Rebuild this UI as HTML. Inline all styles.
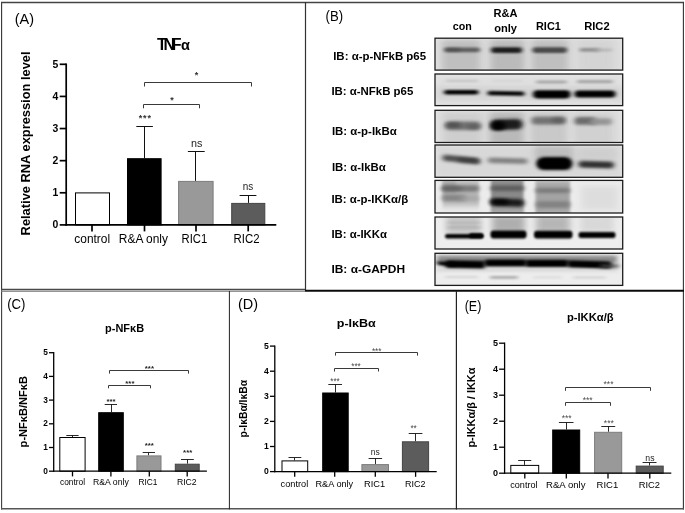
<!DOCTYPE html>
<html><head><meta charset="utf-8"><title>Figure</title>
<style>html,body{margin:0;padding:0;background:#fff;}svg{display:block;filter:blur(0.35px);}text{font-family:"Liberation Sans",sans-serif;}</style>
</head><body>
<svg width="685" height="513" viewBox="0 0 685 513">
<defs>
<filter id="b0" x="-20%" y="-100%" width="140%" height="300%"><feGaussianBlur stdDeviation="1.1 0.8"/></filter>
<filter id="b5" x="-20%" y="-50%" width="140%" height="200%"><feGaussianBlur stdDeviation="1.6 3"/></filter>
<filter id="b1" x="-20%" y="-100%" width="140%" height="300%"><feGaussianBlur stdDeviation="2.2 0.85"/></filter>
<filter id="b2" x="-20%" y="-100%" width="140%" height="300%"><feGaussianBlur stdDeviation="2.8 1.7"/></filter>
<filter id="b3" x="-30%" y="-100%" width="160%" height="300%"><feGaussianBlur stdDeviation="3.5 2.5"/></filter>
</defs>
<rect width="685" height="513" fill="#fff"/>
<line x1="1.6" y1="2" x2="1.6" y2="290" stroke="#333" stroke-width="1.1"/>
<line x1="1.6" y1="290" x2="1.6" y2="509.4" stroke="#3c3c3c" stroke-width="1.1"/>
<line x1="1" y1="2.5" x2="684" y2="2.5" stroke="#444" stroke-width="1.4"/>
<line x1="683.4" y1="2" x2="683.4" y2="509.4" stroke="#333" stroke-width="1.1"/>
<line x1="1" y1="508.8" x2="684" y2="508.8" stroke="#555" stroke-width="1.4"/>
<line x1="305.5" y1="2" x2="305.5" y2="291" stroke="#333" stroke-width="1.2"/>
<line x1="1" y1="289.4" x2="305" y2="289.4" stroke="#484848" stroke-width="1.2"/>
<line x1="1" y1="291.2" x2="305" y2="291.2" stroke="#707070" stroke-width="1.2"/>
<line x1="305" y1="290.8" x2="684" y2="290.8" stroke="#0a0a0a" stroke-width="2"/>
<line x1="229.4" y1="291" x2="229.4" y2="509.4" stroke="#222" stroke-width="1"/>
<line x1="456.4" y1="291" x2="456.4" y2="509.4" stroke="#222" stroke-width="1.2"/>
<text x="14.7" y="23.6" font-size="14" font-weight="normal" text-anchor="start" fill="#000" textLength="19.3" lengthAdjust="spacingAndGlyphs">(A)</text>
<text x="325.6" y="20.9" font-size="14" font-weight="normal" text-anchor="start" fill="#000" textLength="17.5" lengthAdjust="spacingAndGlyphs">(B)</text>
<text x="7.2" y="309.2" font-size="14.4" font-weight="normal" text-anchor="start" fill="#000" textLength="18.2" lengthAdjust="spacingAndGlyphs">(C)</text>
<text x="238" y="308.8" font-size="14.1" font-weight="normal" text-anchor="start" fill="#000" textLength="20.1" lengthAdjust="spacingAndGlyphs">(D)</text>
<text x="464.7" y="310.7" font-size="14" font-weight="normal" text-anchor="start" fill="#000" textLength="16.6" lengthAdjust="spacingAndGlyphs">(E)</text>
<rect x="75.5" y="192.9" width="34" height="32.0" fill="#fff" stroke="#000" stroke-width="1"/>
<line x1="144.5" y1="126.5" x2="144.5" y2="158.2" stroke="#111" stroke-width="1"/>
<line x1="136.3" y1="126.5" x2="152.9" y2="126.5" stroke="#111" stroke-width="1"/>
<rect x="127.5" y="158.7" width="33.6" height="66.2" fill="#000" stroke="#000" stroke-width="1"/>
<line x1="195.5" y1="151.5" x2="195.5" y2="180.9" stroke="#111" stroke-width="1"/>
<line x1="187.9" y1="151.5" x2="204.7" y2="151.5" stroke="#111" stroke-width="1"/>
<rect x="178.6" y="181.4" width="34.5" height="43.5" fill="#999" stroke="#7c7c7c" stroke-width="1"/>
<line x1="248.5" y1="195.5" x2="248.5" y2="202.9" stroke="#111" stroke-width="1"/>
<line x1="239.6" y1="195.5" x2="256.4" y2="195.5" stroke="#111" stroke-width="1"/>
<rect x="231.7" y="203.4" width="33.1" height="21.5" fill="#5c5c5c" stroke="#444" stroke-width="1"/>
<line x1="66.2" y1="63.45000000000001" x2="66.2" y2="225.75" stroke="#000" stroke-width="1.7"/>
<line x1="65.35000000000001" y1="224.9" x2="276.3" y2="224.9" stroke="#000" stroke-width="1.7"/>
<line x1="59.7" y1="224.9" x2="66.2" y2="224.9" stroke="#000" stroke-width="1.7"/>
<text x="58.300000000000004" y="228.228" font-size="10.4" font-weight="bold" text-anchor="end" fill="#000">0</text>
<line x1="59.7" y1="192.78" x2="66.2" y2="192.78" stroke="#000" stroke-width="1.7"/>
<text x="58.300000000000004" y="196.108" font-size="10.4" font-weight="bold" text-anchor="end" fill="#000">1</text>
<line x1="59.7" y1="160.66000000000003" x2="66.2" y2="160.66000000000003" stroke="#000" stroke-width="1.7"/>
<text x="58.300000000000004" y="163.98800000000003" font-size="10.4" font-weight="bold" text-anchor="end" fill="#000">2</text>
<line x1="59.7" y1="128.54000000000002" x2="66.2" y2="128.54000000000002" stroke="#000" stroke-width="1.7"/>
<text x="58.300000000000004" y="131.86800000000002" font-size="10.4" font-weight="bold" text-anchor="end" fill="#000">3</text>
<line x1="59.7" y1="96.42000000000002" x2="66.2" y2="96.42000000000002" stroke="#000" stroke-width="1.7"/>
<text x="58.300000000000004" y="99.74800000000002" font-size="10.4" font-weight="bold" text-anchor="end" fill="#000">4</text>
<line x1="59.7" y1="64.30000000000001" x2="66.2" y2="64.30000000000001" stroke="#000" stroke-width="1.7"/>
<text x="58.300000000000004" y="67.62800000000001" font-size="10.4" font-weight="bold" text-anchor="end" fill="#000">5</text>
<line x1="92" y1="224.9" x2="92" y2="231.4" stroke="#000" stroke-width="1.7"/>
<line x1="144.5" y1="224.9" x2="144.5" y2="231.4" stroke="#000" stroke-width="1.7"/>
<line x1="196" y1="224.9" x2="196" y2="231.4" stroke="#000" stroke-width="1.7"/>
<line x1="248.2" y1="224.9" x2="248.2" y2="231.4" stroke="#000" stroke-width="1.7"/>
<text x="74.3" y="243" font-size="12" font-weight="normal" text-anchor="start" fill="#000" textLength="35.8" lengthAdjust="spacingAndGlyphs">control</text>
<text x="118.8" y="243" font-size="12" font-weight="normal" text-anchor="start" fill="#000" textLength="49.1" lengthAdjust="spacingAndGlyphs">R&amp;A only</text>
<text x="181.6" y="243" font-size="12" font-weight="normal" text-anchor="start" fill="#000" textLength="25.7" lengthAdjust="spacingAndGlyphs">RIC1</text>
<text x="233.5" y="243" font-size="12" font-weight="normal" text-anchor="start" fill="#000" textLength="26.0" lengthAdjust="spacingAndGlyphs">RIC2</text>
<text transform="translate(30.3,143.4) rotate(-90)" font-size="13" font-weight="bold" text-anchor="middle" textLength="184" lengthAdjust="spacingAndGlyphs">Relative RNA expression level</text>
<text x="157" y="49.7" font-size="16" font-weight="bold"><tspan letter-spacing="-3.3">TNF</tspan><tspan dx="2.8" font-size="14.5">α</tspan></text>
<path d="M144.5 86.5V82.5H251.5V86.5" fill="none" stroke="#3a3a3a" stroke-width="1"/>
<text x="196.6" y="78.34" font-size="9" font-weight="bold" text-anchor="middle" fill="#333">*</text>
<path d="M143.5 108.3V104.5H199.5V108.3" fill="none" stroke="#3a3a3a" stroke-width="1"/>
<text x="171.9" y="102.73" font-size="9" font-weight="bold" text-anchor="middle" fill="#333">*</text>
<text x="144.8" y="121.03" font-size="9" font-weight="bold" text-anchor="middle" fill="#333" textLength="12.3" lengthAdjust="spacing">***</text>
<text x="191" y="147.1" font-size="11.8" font-weight="normal" text-anchor="start" fill="#222" textLength="11.4" lengthAdjust="spacingAndGlyphs">ns</text>
<text x="242.7" y="189.6" font-size="11.5" font-weight="normal" text-anchor="start" fill="#222" textLength="10.5" lengthAdjust="spacingAndGlyphs">ns</text>
<line x1="72.5" y1="435.5" x2="72.5" y2="437" stroke="#111" stroke-width="0.9"/>
<line x1="66.3" y1="435.5" x2="78.6" y2="435.5" stroke="#111" stroke-width="0.9"/>
<rect x="59.8" y="437.5" width="25.299999999999997" height="33.69999999999999" fill="#fff" stroke="#000" stroke-width="1"/>
<line x1="111.5" y1="404.5" x2="111.5" y2="412.2" stroke="#111" stroke-width="0.9"/>
<line x1="104.7" y1="404.5" x2="117" y2="404.5" stroke="#111" stroke-width="0.9"/>
<rect x="98.7" y="412.7" width="24.6" height="58.5" fill="#000" stroke="#000" stroke-width="1"/>
<line x1="148.5" y1="452.5" x2="148.5" y2="455.4" stroke="#111" stroke-width="0.9"/>
<line x1="142.7" y1="452.5" x2="155" y2="452.5" stroke="#111" stroke-width="0.9"/>
<rect x="136.9" y="455.9" width="24.1" height="15.3" fill="#999" stroke="#7c7c7c" stroke-width="1"/>
<line x1="187.5" y1="459.5" x2="187.5" y2="463.7" stroke="#111" stroke-width="0.9"/>
<line x1="181" y1="459.5" x2="193.8" y2="459.5" stroke="#111" stroke-width="0.9"/>
<rect x="175.3" y="464.2" width="23.9" height="7.0" fill="#5c5c5c" stroke="#444" stroke-width="1"/>
<line x1="53.7" y1="352.05" x2="53.7" y2="471.84999999999997" stroke="#000" stroke-width="1.3"/>
<line x1="53.050000000000004" y1="471.2" x2="206.9" y2="471.2" stroke="#000" stroke-width="1.3"/>
<line x1="49.0" y1="471.2" x2="53.7" y2="471.2" stroke="#000" stroke-width="1.3"/>
<text x="47.8" y="473.856" font-size="8.3" font-weight="bold" text-anchor="end" fill="#000">0</text>
<line x1="49.0" y1="447.5" x2="53.7" y2="447.5" stroke="#000" stroke-width="1.3"/>
<text x="47.8" y="450.156" font-size="8.3" font-weight="bold" text-anchor="end" fill="#000">1</text>
<line x1="49.0" y1="423.8" x2="53.7" y2="423.8" stroke="#000" stroke-width="1.3"/>
<text x="47.8" y="426.456" font-size="8.3" font-weight="bold" text-anchor="end" fill="#000">2</text>
<line x1="49.0" y1="400.1" x2="53.7" y2="400.1" stroke="#000" stroke-width="1.3"/>
<text x="47.8" y="402.75600000000003" font-size="8.3" font-weight="bold" text-anchor="end" fill="#000">3</text>
<line x1="49.0" y1="376.4" x2="53.7" y2="376.4" stroke="#000" stroke-width="1.3"/>
<text x="47.8" y="379.056" font-size="8.3" font-weight="bold" text-anchor="end" fill="#000">4</text>
<line x1="49.0" y1="352.7" x2="53.7" y2="352.7" stroke="#000" stroke-width="1.3"/>
<text x="47.8" y="355.356" font-size="8.3" font-weight="bold" text-anchor="end" fill="#000">5</text>
<line x1="72.5" y1="471.2" x2="72.5" y2="476.4" stroke="#000" stroke-width="1.3"/>
<line x1="110.9" y1="471.2" x2="110.9" y2="476.4" stroke="#000" stroke-width="1.3"/>
<line x1="149.3" y1="471.2" x2="149.3" y2="476.4" stroke="#000" stroke-width="1.3"/>
<line x1="187.2" y1="471.2" x2="187.2" y2="476.4" stroke="#000" stroke-width="1.3"/>
<text x="60" y="485" font-size="8.6" font-weight="normal" text-anchor="start" fill="#000" textLength="25.1" lengthAdjust="spacingAndGlyphs">control</text>
<text x="93" y="485" font-size="8.6" font-weight="normal" text-anchor="start" fill="#000" textLength="35.8" lengthAdjust="spacingAndGlyphs">R&amp;A only</text>
<text x="138.4" y="485" font-size="8.6" font-weight="normal" text-anchor="start" fill="#000" textLength="19.0" lengthAdjust="spacingAndGlyphs">RIC1</text>
<text x="176.9" y="485" font-size="8.6" font-weight="normal" text-anchor="start" fill="#000" textLength="19.8" lengthAdjust="spacingAndGlyphs">RIC2</text>
<text transform="translate(26.5,411.7) rotate(-90)" font-size="10" font-weight="bold" text-anchor="middle" textLength="71.4" lengthAdjust="spacingAndGlyphs">p-NFκB/NFκB</text>
<text x="105.1" y="331.9" font-size="10" font-weight="bold" text-anchor="start" fill="#000" textLength="39" lengthAdjust="spacingAndGlyphs">p-NFκB</text>
<path d="M109.5 373.6V370.5H188.5V373.6" fill="none" stroke="#3a3a3a" stroke-width="1"/>
<text x="149.4" y="371.11" font-size="7.6" font-weight="bold" text-anchor="middle" fill="#222" textLength="9.2" lengthAdjust="spacingAndGlyphs">***</text>
<path d="M108.5 388.3V385.5H150.5V388.3" fill="none" stroke="#3a3a3a" stroke-width="1"/>
<text x="129.9" y="385.61" font-size="7.6" font-weight="bold" text-anchor="middle" fill="#222" textLength="9.2" lengthAdjust="spacingAndGlyphs">***</text>
<text x="111" y="404.11" font-size="7.6" font-weight="bold" text-anchor="middle" fill="#222" textLength="9.2" lengthAdjust="spacingAndGlyphs">***</text>
<text x="149.3" y="448.21" font-size="7.6" font-weight="bold" text-anchor="middle" fill="#222" textLength="9.2" lengthAdjust="spacingAndGlyphs">***</text>
<text x="187.7" y="455.01" font-size="7.6" font-weight="bold" text-anchor="middle" fill="#222" textLength="9.2" lengthAdjust="spacingAndGlyphs">***</text>
<line x1="294.5" y1="457.5" x2="294.5" y2="460.4" stroke="#111" stroke-width="0.9"/>
<line x1="288.5" y1="457.5" x2="301.3" y2="457.5" stroke="#111" stroke-width="0.9"/>
<rect x="282.0" y="460.9" width="25.69999999999999" height="10.700000000000045" fill="#fff" stroke="#000" stroke-width="1"/>
<line x1="335.5" y1="384.5" x2="335.5" y2="392.5" stroke="#111" stroke-width="0.9"/>
<line x1="328.3" y1="384.5" x2="342" y2="384.5" stroke="#111" stroke-width="0.9"/>
<rect x="322.7" y="393.0" width="25.5" height="78.6" fill="#000" stroke="#000" stroke-width="1"/>
<line x1="375.5" y1="458.5" x2="375.5" y2="464.1" stroke="#111" stroke-width="0.9"/>
<line x1="368.6" y1="458.5" x2="382.1" y2="458.5" stroke="#111" stroke-width="0.9"/>
<rect x="361.9" y="464.6" width="26.6" height="7.0" fill="#999" stroke="#7c7c7c" stroke-width="1"/>
<line x1="415.5" y1="433.5" x2="415.5" y2="441.3" stroke="#111" stroke-width="0.9"/>
<line x1="408.7" y1="433.5" x2="422.4" y2="433.5" stroke="#111" stroke-width="0.9"/>
<rect x="402.4" y="441.8" width="26.2" height="29.8" fill="#5c5c5c" stroke="#444" stroke-width="1"/>
<line x1="274.8" y1="345.45000000000005" x2="274.8" y2="472.25" stroke="#000" stroke-width="1.3"/>
<line x1="274.15000000000003" y1="471.6" x2="436.7" y2="471.6" stroke="#000" stroke-width="1.3"/>
<line x1="270.0" y1="471.6" x2="274.8" y2="471.6" stroke="#000" stroke-width="1.3"/>
<text x="268.8" y="474.35200000000003" font-size="8.6" font-weight="bold" text-anchor="end" fill="#000">0</text>
<line x1="270.0" y1="446.5" x2="274.8" y2="446.5" stroke="#000" stroke-width="1.3"/>
<text x="268.8" y="449.252" font-size="8.6" font-weight="bold" text-anchor="end" fill="#000">1</text>
<line x1="270.0" y1="421.40000000000003" x2="274.8" y2="421.40000000000003" stroke="#000" stroke-width="1.3"/>
<text x="268.8" y="424.15200000000004" font-size="8.6" font-weight="bold" text-anchor="end" fill="#000">2</text>
<line x1="270.0" y1="396.3" x2="274.8" y2="396.3" stroke="#000" stroke-width="1.3"/>
<text x="268.8" y="399.052" font-size="8.6" font-weight="bold" text-anchor="end" fill="#000">3</text>
<line x1="270.0" y1="371.20000000000005" x2="274.8" y2="371.20000000000005" stroke="#000" stroke-width="1.3"/>
<text x="268.8" y="373.95200000000006" font-size="8.6" font-weight="bold" text-anchor="end" fill="#000">4</text>
<line x1="270.0" y1="346.1" x2="274.8" y2="346.1" stroke="#000" stroke-width="1.3"/>
<text x="268.8" y="348.85200000000003" font-size="8.6" font-weight="bold" text-anchor="end" fill="#000">5</text>
<line x1="294.7" y1="471.6" x2="294.7" y2="476.8" stroke="#000" stroke-width="1.3"/>
<line x1="334.7" y1="471.6" x2="334.7" y2="476.8" stroke="#000" stroke-width="1.3"/>
<line x1="375.3" y1="471.6" x2="375.3" y2="476.8" stroke="#000" stroke-width="1.3"/>
<line x1="415.6" y1="471.6" x2="415.6" y2="476.8" stroke="#000" stroke-width="1.3"/>
<text x="280.6" y="486.7" font-size="9" font-weight="normal" text-anchor="start" fill="#000" textLength="27.6" lengthAdjust="spacingAndGlyphs">control</text>
<text x="315.5" y="486.7" font-size="9" font-weight="normal" text-anchor="start" fill="#000" textLength="37.7" lengthAdjust="spacingAndGlyphs">R&amp;A only</text>
<text x="364" y="486.7" font-size="9" font-weight="normal" text-anchor="start" fill="#000" textLength="21.1" lengthAdjust="spacingAndGlyphs">RIC1</text>
<text x="405" y="486.7" font-size="9" font-weight="normal" text-anchor="start" fill="#000" textLength="20.5" lengthAdjust="spacingAndGlyphs">RIC2</text>
<text transform="translate(247,408.7) rotate(-90)" font-size="10" font-weight="bold" text-anchor="middle" textLength="57.4" lengthAdjust="spacingAndGlyphs">p-IκBα/IκBα</text>
<text x="336.8" y="327" font-size="10" font-weight="bold" text-anchor="start" fill="#000" textLength="39" lengthAdjust="spacingAndGlyphs">p-IκBα</text>
<path d="M335.5 355.6V352.5H417.5V355.6" fill="none" stroke="#3a3a3a" stroke-width="1"/>
<text x="376.7" y="354.25" font-size="9.8" font-weight="normal" text-anchor="middle" fill="#444" textLength="9.5" lengthAdjust="spacingAndGlyphs">***</text>
<path d="M334.5 371.5V368.5H378.5V371.5" fill="none" stroke="#3a3a3a" stroke-width="1"/>
<text x="356" y="369.25" font-size="9.8" font-weight="normal" text-anchor="middle" fill="#444" textLength="9.5" lengthAdjust="spacingAndGlyphs">***</text>
<text x="335" y="384.05" font-size="9.8" font-weight="normal" text-anchor="middle" fill="#444" textLength="9.5" lengthAdjust="spacingAndGlyphs">***</text>
<text x="370.8" y="455.3" font-size="9" font-weight="normal" text-anchor="start" fill="#222" textLength="9" lengthAdjust="spacingAndGlyphs">ns</text>
<text x="413.6" y="431.05" font-size="9.8" font-weight="normal" text-anchor="middle" fill="#444" textLength="6.4" lengthAdjust="spacingAndGlyphs">**</text>
<line x1="524.5" y1="460.5" x2="524.5" y2="464.9" stroke="#111" stroke-width="0.9"/>
<line x1="518.2" y1="460.5" x2="531.3" y2="460.5" stroke="#111" stroke-width="0.9"/>
<rect x="510.8" y="465.4" width="27.900000000000034" height="7.800000000000011" fill="#fff" stroke="#000" stroke-width="1"/>
<line x1="566.5" y1="422.5" x2="566.5" y2="429.5" stroke="#111" stroke-width="0.9"/>
<line x1="558.9" y1="422.5" x2="573.5" y2="422.5" stroke="#111" stroke-width="0.9"/>
<rect x="552.7" y="430.0" width="27.0" height="43.2" fill="#000" stroke="#000" stroke-width="1"/>
<line x1="608.5" y1="426.5" x2="608.5" y2="431.8" stroke="#111" stroke-width="0.9"/>
<line x1="601.3" y1="426.5" x2="615.2" y2="426.5" stroke="#111" stroke-width="0.9"/>
<rect x="594.6" y="432.3" width="27.1" height="40.9" fill="#999" stroke="#7c7c7c" stroke-width="1"/>
<line x1="649.5" y1="462.5" x2="649.5" y2="465.6" stroke="#111" stroke-width="0.9"/>
<line x1="642.6" y1="462.5" x2="656.5" y2="462.5" stroke="#111" stroke-width="0.9"/>
<rect x="636.2" y="466.1" width="27.0" height="7.1" fill="#5c5c5c" stroke="#444" stroke-width="1"/>
<line x1="504.6" y1="342.55" x2="504.6" y2="473.84999999999997" stroke="#000" stroke-width="1.3"/>
<line x1="503.95000000000005" y1="473.2" x2="671.3" y2="473.2" stroke="#000" stroke-width="1.3"/>
<line x1="499.1" y1="473.2" x2="504.6" y2="473.2" stroke="#000" stroke-width="1.3"/>
<text x="497.90000000000003" y="476.08" font-size="9" font-weight="bold" text-anchor="end" fill="#000">0</text>
<line x1="499.1" y1="447.2" x2="504.6" y2="447.2" stroke="#000" stroke-width="1.3"/>
<text x="497.90000000000003" y="450.08" font-size="9" font-weight="bold" text-anchor="end" fill="#000">1</text>
<line x1="499.1" y1="421.2" x2="504.6" y2="421.2" stroke="#000" stroke-width="1.3"/>
<text x="497.90000000000003" y="424.08" font-size="9" font-weight="bold" text-anchor="end" fill="#000">2</text>
<line x1="499.1" y1="395.2" x2="504.6" y2="395.2" stroke="#000" stroke-width="1.3"/>
<text x="497.90000000000003" y="398.08" font-size="9" font-weight="bold" text-anchor="end" fill="#000">3</text>
<line x1="499.1" y1="369.2" x2="504.6" y2="369.2" stroke="#000" stroke-width="1.3"/>
<text x="497.90000000000003" y="372.08" font-size="9" font-weight="bold" text-anchor="end" fill="#000">4</text>
<line x1="499.1" y1="343.2" x2="504.6" y2="343.2" stroke="#000" stroke-width="1.3"/>
<text x="497.90000000000003" y="346.08" font-size="9" font-weight="bold" text-anchor="end" fill="#000">5</text>
<line x1="524.8" y1="473.2" x2="524.8" y2="478.59999999999997" stroke="#000" stroke-width="1.3"/>
<line x1="566.3" y1="473.2" x2="566.3" y2="478.59999999999997" stroke="#000" stroke-width="1.3"/>
<line x1="608" y1="473.2" x2="608" y2="478.59999999999997" stroke="#000" stroke-width="1.3"/>
<line x1="649.8" y1="473.2" x2="649.8" y2="478.59999999999997" stroke="#000" stroke-width="1.3"/>
<text x="510.3" y="488" font-size="9.2" font-weight="normal" text-anchor="start" fill="#000" textLength="27.2" lengthAdjust="spacingAndGlyphs">control</text>
<text x="546" y="488" font-size="9.2" font-weight="normal" text-anchor="start" fill="#000" textLength="39.5" lengthAdjust="spacingAndGlyphs">R&amp;A only</text>
<text x="596.6" y="488" font-size="9.2" font-weight="normal" text-anchor="start" fill="#000" textLength="21.7" lengthAdjust="spacingAndGlyphs">RIC1</text>
<text x="638.7" y="488" font-size="9.2" font-weight="normal" text-anchor="start" fill="#000" textLength="21.3" lengthAdjust="spacingAndGlyphs">RIC2</text>
<text transform="translate(475,407.6) rotate(-90)" font-size="10" font-weight="bold" text-anchor="middle" textLength="80" lengthAdjust="spacingAndGlyphs">p-IKKα/β / IKKα</text>
<text x="566.9" y="320.5" font-size="10" font-weight="bold" text-anchor="start" fill="#000" textLength="46.7" lengthAdjust="spacingAndGlyphs">p-IKKα/β</text>
<path d="M565.5 390.8V387.5H650.5V390.8" fill="none" stroke="#3a3a3a" stroke-width="1"/>
<text x="608.5" y="387.45" font-size="9.8" font-weight="normal" text-anchor="middle" fill="#4a4a4a" textLength="10" lengthAdjust="spacingAndGlyphs">***</text>
<path d="M565.5 405.8V402.5H610.5V405.8" fill="none" stroke="#3a3a3a" stroke-width="1"/>
<text x="587.7" y="403.25" font-size="9.8" font-weight="normal" text-anchor="middle" fill="#4a4a4a" textLength="10" lengthAdjust="spacingAndGlyphs">***</text>
<text x="566.7" y="420.85" font-size="9.8" font-weight="normal" text-anchor="middle" fill="#4a4a4a" textLength="10" lengthAdjust="spacingAndGlyphs">***</text>
<text x="608.8" y="426.05" font-size="9.8" font-weight="normal" text-anchor="middle" fill="#4a4a4a" textLength="10" lengthAdjust="spacingAndGlyphs">***</text>
<text x="645.3" y="460.9" font-size="9" font-weight="normal" text-anchor="start" fill="#222" textLength="9.2" lengthAdjust="spacingAndGlyphs">ns</text>
<text x="333.2" y="59.6" font-size="11" font-weight="bold" text-anchor="start" fill="#000" textLength="92.9" lengthAdjust="spacingAndGlyphs">IB: α-p-NFkB p65</text>
<text x="331.4" y="94.7" font-size="11" font-weight="bold" text-anchor="start" fill="#000" textLength="81.9" lengthAdjust="spacingAndGlyphs">IB: α-NFkB p65</text>
<text x="331.9" y="135.4" font-size="11" font-weight="bold" text-anchor="start" fill="#000" textLength="64.8" lengthAdjust="spacingAndGlyphs">IB: α-p-IkBα</text>
<text x="331.9" y="171.4" font-size="11" font-weight="bold" text-anchor="start" fill="#000" textLength="53.9" lengthAdjust="spacingAndGlyphs">IB: α-IkBα</text>
<text x="331.4" y="203.2" font-size="11" font-weight="bold" text-anchor="start" fill="#000" textLength="76.8" lengthAdjust="spacingAndGlyphs">IB: α-p-IKKα/β</text>
<text x="331.4" y="237.9" font-size="11" font-weight="bold" text-anchor="start" fill="#000" textLength="55.6" lengthAdjust="spacingAndGlyphs">IB: α-IKKα</text>
<text x="331.4" y="272.5" font-size="11" font-weight="bold" text-anchor="start" fill="#000" textLength="73.7" lengthAdjust="spacingAndGlyphs">IB: α-GAPDH</text>
<text x="452.8" y="29.6" font-size="11" font-weight="bold" text-anchor="start" fill="#000" textLength="19" lengthAdjust="spacingAndGlyphs">con</text>
<text x="493.6" y="17.4" font-size="11" font-weight="bold" text-anchor="start" fill="#000" textLength="24" lengthAdjust="spacingAndGlyphs">R&amp;A</text>
<text x="494.2" y="32" font-size="11" font-weight="bold" text-anchor="start" fill="#000" textLength="22.8" lengthAdjust="spacingAndGlyphs">only</text>
<text x="536" y="29.6" font-size="11" font-weight="bold" text-anchor="start" fill="#000" textLength="24.8" lengthAdjust="spacingAndGlyphs">RIC1</text>
<text x="584.2" y="29.6" font-size="11" font-weight="bold" text-anchor="start" fill="#000" textLength="25.4" lengthAdjust="spacingAndGlyphs">RIC2</text>
<!--BLOTS-->
<clipPath id="c0"><rect x="435" y="38.2" width="187.70000000000005" height="31.89999999999999"/></clipPath>
<rect x="435" y="38.2" width="187.70000000000005" height="31.89999999999999" fill="#e9e9e9"/>
<g clip-path="url(#c0)">
<rect x="435" y="38" width="188.0" height="33.0" fill="#dcdcdc" opacity="1" filter="url(#b3)"/>
<rect x="442" y="40" width="38.0" height="32.0" fill="#b8b8b8" opacity="0.8" filter="url(#b3)"/>
<rect x="490.5" y="40" width="33.5" height="32.0" fill="#b4b4b4" opacity="0.85" filter="url(#b3)"/>
<rect x="532" y="40" width="36.0" height="32.0" fill="#b8b8b8" opacity="0.8" filter="url(#b3)"/>
<rect x="579" y="40" width="34.0" height="32.0" fill="#cfcfcf" opacity="0.6" filter="url(#b3)"/>
<rect x="444.5" y="47.5" width="35.5" height="4.8" rx="2.4" fill="#5a5a5a" opacity="0.95" filter="url(#b1)"/>
<rect x="445" y="47.7" width="15.0" height="4" rx="2.0" fill="#444" opacity="0.5" filter="url(#b1)"/>
<rect x="491" y="47.2" width="31.0" height="5.8" rx="2.9" fill="#1c1c1c" opacity="1" filter="url(#b1)"/>
<rect x="532.5" y="47.3" width="34.5" height="5.6" rx="2.8" fill="#484848" opacity="1" filter="url(#b1)"/>
<rect x="579.5" y="48.1" width="20.5" height="3.6" rx="1.8" fill="#8a8a8a" opacity="0.9" filter="url(#b1)"/>
<rect x="595" y="48.6" width="17.0" height="3" rx="1.5" fill="#b0b0b0" opacity="0.8" filter="url(#b1)"/>
</g>
<rect x="435" y="38.2" width="187.70000000000005" height="31.89999999999999" fill="none" stroke="#1c1c1c" stroke-width="1.3"/>
<clipPath id="c1"><rect x="435" y="74" width="187.70000000000005" height="31.599999999999994"/></clipPath>
<rect x="435" y="74" width="187.70000000000005" height="31.599999999999994" fill="#e9e9e9"/>
<g clip-path="url(#c1)">
<rect x="435" y="74" width="188.0" height="32.0" fill="#e0e0e0" opacity="1" filter="url(#b3)"/>
<rect x="435" y="86" width="188.0" height="14.0" fill="#cfcfcf" opacity="0.7" filter="url(#b3)"/>
<rect x="446" y="79.7" width="32.0" height="2.2" rx="1.1" fill="#b8b8b8" opacity="0.7" filter="url(#b1)"/>
<rect x="492" y="79.8" width="30.0" height="2" rx="1.0" fill="#cacaca" opacity="0.6" filter="url(#b1)"/>
<rect x="536" y="80.4" width="31.0" height="3.2" rx="1.6" fill="#9c9c9c" opacity="0.85" filter="url(#b1)"/>
<rect x="577" y="80.0" width="36.0" height="3.2" rx="1.6" fill="#9c9c9c" opacity="0.85" filter="url(#b1)"/>
<rect x="444" y="90.0" width="34.5" height="4.4" rx="2.2" fill="#000" opacity="1" filter="url(#b1)"/>
<rect x="487.5" y="91.2" width="37.0" height="4.4" rx="2.2" fill="#000" opacity="1" filter="url(#b1)" transform="rotate(1 506.0 93.4)"/>
<rect x="533" y="90.2" width="37.5" height="8.2" rx="4.1" fill="#000" opacity="1" filter="url(#b1)"/>
<rect x="574.5" y="90.5" width="41.0" height="7" rx="3.5" fill="#000" opacity="1" filter="url(#b1)"/>
</g>
<rect x="435" y="74" width="187.70000000000005" height="31.599999999999994" fill="none" stroke="#1c1c1c" stroke-width="1.3"/>
<clipPath id="c2"><rect x="435" y="110.3" width="187.70000000000005" height="32.2"/></clipPath>
<rect x="435" y="110.3" width="187.70000000000005" height="32.2" fill="#e9e9e9"/>
<g clip-path="url(#c2)">
<rect x="435" y="110" width="188.0" height="33.0" fill="#dedede" opacity="1" filter="url(#b3)"/>
<rect x="443" y="112" width="39.0" height="34.0" fill="#c4c4c4" opacity="0.6" filter="url(#b3)"/>
<rect x="489.5" y="112" width="34.5" height="34.0" fill="#b0b0b0" opacity="0.8" filter="url(#b3)"/>
<rect x="531" y="112" width="36.0" height="34.0" fill="#c0c0c0" opacity="0.7" filter="url(#b3)"/>
<rect x="574" y="112" width="39.0" height="34.0" fill="#c8c8c8" opacity="0.6" filter="url(#b3)"/>
<rect x="445" y="121.5" width="36.0" height="8.6" rx="4.3" fill="#686868" opacity="0.92" filter="url(#b2)"/>
<rect x="446" y="122.0" width="14.0" height="6" rx="3.0" fill="#3a3a3a" opacity="0.55" filter="url(#b2)"/>
<rect x="468" y="124.0" width="12.0" height="6" rx="3.0" fill="#444" opacity="0.35" filter="url(#b2)"/>
<rect x="490.5" y="119.3" width="32.0" height="10.5" rx="5.25" fill="#1a1a1a" opacity="1" filter="url(#b2)" transform="rotate(-1.5 506.5 124.6)"/>
<rect x="491" y="121.3" width="14.0" height="9" rx="4.5" fill="#000" opacity="0.95" filter="url(#b2)"/>
<rect x="531.5" y="116.7" width="34.0" height="7.8" rx="3.9" fill="#6c6c6c" opacity="0.92" filter="url(#b2)"/>
<rect x="552" y="117.0" width="13.0" height="6" rx="3.0" fill="#444" opacity="0.4" filter="url(#b2)"/>
<rect x="574.5" y="117.0" width="21.5" height="7.8" rx="3.9" fill="#646464" opacity="0.92" filter="url(#b2)"/>
<rect x="590" y="118.2" width="22.0" height="6.8" rx="3.4" fill="#909090" opacity="0.9" filter="url(#b2)"/>
</g>
<rect x="435" y="110.3" width="187.70000000000005" height="32.2" fill="none" stroke="#1c1c1c" stroke-width="1.3"/>
<clipPath id="c3"><rect x="435" y="145" width="187.70000000000005" height="32.30000000000001"/></clipPath>
<rect x="435" y="145" width="187.70000000000005" height="32.30000000000001" fill="#e9e9e9"/>
<g clip-path="url(#c3)">
<rect x="435" y="145" width="188.0" height="33.0" fill="#d8d8d8" opacity="1" filter="url(#b3)"/>
<rect x="535" y="146" width="38.0" height="14.0" fill="#b4b4b4" opacity="0.75" filter="url(#b3)"/>
<rect x="578" y="148" width="37.0" height="12.0" fill="#c4c4c4" opacity="0.5" filter="url(#b3)"/>
<rect x="442.5" y="156.2" width="37.5" height="6.4" rx="3.2" fill="#424242" opacity="0.92" filter="url(#b2)" transform="rotate(5.5 461.25 159.4)"/>
<rect x="458" y="158.3" width="21.0" height="5" rx="2.5" fill="#222" opacity="0.45" filter="url(#b2)" transform="rotate(4 468.5 160.8)"/>
<rect x="488" y="158.1" width="39.5" height="5.4" rx="2.7" fill="#777" opacity="0.9" filter="url(#b2)" transform="rotate(1.5 507.75 160.8)"/>
<rect x="537" y="157.1" width="35.0" height="13" rx="6.5" fill="#000" opacity="1" filter="url(#b2)"/>
<rect x="538" y="159.1" width="32.0" height="9" rx="4.5" fill="#000" opacity="1" filter="url(#b1)"/>
<rect x="578.5" y="161.2" width="35.5" height="6.8" rx="3.4" fill="#262626" opacity="0.95" filter="url(#b2)" transform="rotate(1.5 596.25 164.6)"/>
</g>
<rect x="435" y="145" width="187.70000000000005" height="32.30000000000001" fill="none" stroke="#1c1c1c" stroke-width="1.3"/>
<clipPath id="c4"><rect x="435" y="180.4" width="187.70000000000005" height="32.599999999999994"/></clipPath>
<rect x="435" y="180.4" width="187.70000000000005" height="32.599999999999994" fill="#e9e9e9"/>
<g clip-path="url(#c4)">
<rect x="435" y="180" width="188.0" height="34.0" fill="#ececec" opacity="1" filter="url(#b3)"/>
<rect x="442.5" y="180" width="36.5" height="26.0" fill="#a8a8a8" opacity="0.8" filter="url(#b5)"/>
<rect x="442.5" y="181" width="13.5" height="12.0" fill="#808080" opacity="0.45" filter="url(#b5)"/>
<rect x="491" y="178" width="32.5" height="38.0" fill="#808080" opacity="0.92" filter="url(#b5)"/>
<rect x="491" y="206" width="32.5" height="10.0" fill="#fff" opacity="0.22" filter="url(#b5)"/>
<rect x="535.5" y="180" width="34.5" height="36.0" fill="#989898" opacity="0.85" filter="url(#b5)"/>
<rect x="581" y="186" width="37.0" height="24.0" fill="#d8d8d8" opacity="0.7" filter="url(#b3)"/>
<rect x="442" y="185.6" width="37.0" height="6" rx="3.0" fill="#6a6a6a" opacity="0.8" filter="url(#b2)"/>
<rect x="442" y="185.9" width="20.0" height="5" rx="2.5" fill="#555" opacity="0.5" filter="url(#b2)"/>
<rect x="442" y="194.8" width="24.0" height="6.5" rx="3.25" fill="#777" opacity="0.75" filter="url(#b2)"/>
<rect x="460" y="196.0" width="19.0" height="5" rx="2.5" fill="#a0a0a0" opacity="0.6" filter="url(#b2)"/>
<rect x="490.5" y="185.4" width="33.5" height="5.5" rx="2.75" fill="#505050" opacity="0.75" filter="url(#b2)"/>
<rect x="490.5" y="198.8" width="33.5" height="7.5" rx="3.75" fill="#161616" opacity="0.95" filter="url(#b2)" transform="rotate(2 507.25 202.5)"/>
<rect x="491" y="199.0" width="17.0" height="6" rx="3.0" fill="#000" opacity="0.7" filter="url(#b2)"/>
<rect x="535.5" y="187.9" width="34.5" height="5" rx="2.5" fill="#6c6c6c" opacity="0.7" filter="url(#b2)"/>
<rect x="536" y="201.2" width="34.0" height="6.5" rx="3.25" fill="#777" opacity="0.75" filter="url(#b2)"/>
</g>
<rect x="435" y="180.4" width="187.70000000000005" height="32.599999999999994" fill="none" stroke="#1c1c1c" stroke-width="1.3"/>
<clipPath id="c5"><rect x="435" y="217" width="187.70000000000005" height="32"/></clipPath>
<rect x="435" y="217" width="187.70000000000005" height="32" fill="#e9e9e9"/>
<g clip-path="url(#c5)">
<rect x="435" y="217" width="188.0" height="33.0" fill="#eeeeee" opacity="1" filter="url(#b3)"/>
<rect x="446" y="216" width="35.0" height="18.0" fill="#bebebe" opacity="0.85" filter="url(#b3)"/>
<rect x="492" y="216" width="33.0" height="16.0" fill="#a8a8a8" opacity="0.9" filter="url(#b3)"/>
<rect x="536" y="216" width="34.0" height="16.0" fill="#b0b0b0" opacity="0.9" filter="url(#b3)"/>
<rect x="580" y="216" width="34.0" height="16.0" fill="#d0d0d0" opacity="0.75" filter="url(#b3)"/>
<rect x="447" y="222.0" width="34.0" height="1.6" rx="0.8" fill="#aaa" opacity="0.7" filter="url(#b1)"/>
<rect x="447" y="226.5" width="34.0" height="1.8" rx="0.9" fill="#a4a4a4" opacity="0.7" filter="url(#b1)"/>
<rect x="445" y="234.0" width="38.5" height="4.6" rx="2.3" fill="#000" opacity="1" filter="url(#b0)"/>
<rect x="469" y="233.3" width="14.5" height="4.8" rx="2.4" fill="#000" opacity="1" filter="url(#b0)"/>
<rect x="490.5" y="230.6" width="36.0" height="7.8" rx="3" fill="#000" opacity="1" filter="url(#b0)"/>
<rect x="534" y="230.7" width="38.5" height="7.8" rx="3" fill="#000" opacity="1" filter="url(#b0)"/>
<rect x="578.5" y="232.0" width="37.0" height="6" rx="2.5" fill="#000" opacity="1" filter="url(#b0)"/>
</g>
<rect x="435" y="217" width="187.70000000000005" height="32" fill="none" stroke="#1c1c1c" stroke-width="1.3"/>
<clipPath id="c6"><rect x="435" y="253.3" width="187.70000000000005" height="32.099999999999966"/></clipPath>
<rect x="435" y="253.3" width="187.70000000000005" height="32.099999999999966" fill="#e9e9e9"/>
<g clip-path="url(#c6)">
<rect x="435" y="253" width="188.0" height="33.0" fill="#ededed" opacity="1" filter="url(#b3)"/>
<rect x="437" y="255.5" width="180.0" height="7.5" fill="#7c7c7c" opacity="0.85" filter="url(#b2)"/>
<rect x="437" y="266" width="180.0" height="6.0" fill="#cfcfcf" opacity="0.6" filter="url(#b2)"/>
<rect x="445" y="260.5" width="40.5" height="7.8" rx="3.9" fill="#000" opacity="1" filter="url(#b1)" transform="rotate(1 465.25 264.4)"/>
<rect x="437" y="261.8" width="19.0" height="4" rx="2.0" fill="#000" opacity="1" filter="url(#b1)" transform="rotate(4 446.5 263.8)"/>
<rect x="484" y="259.6" width="43.0" height="7" rx="3.5" fill="#050505" opacity="1" filter="url(#b1)"/>
<rect x="525" y="259.8" width="44.0" height="7.2" rx="3.6" fill="#000" opacity="1" filter="url(#b1)"/>
<rect x="567" y="260.7" width="45.0" height="7.2" rx="3.6" fill="#000" opacity="1" filter="url(#b1)" transform="rotate(1.5 589.5 264.3)"/>
<rect x="600" y="264.0" width="19.0" height="4" rx="2.0" fill="#444" opacity="0.8" filter="url(#b2)"/>
<rect x="445" y="276.1" width="33.0" height="1.8" rx="0.9" fill="#c8c8c8" opacity="0.7" filter="url(#b1)"/>
<rect x="490" y="276.0" width="28.0" height="2.8" rx="1.4" fill="#9a9a9a" opacity="0.8" filter="url(#b1)"/>
<rect x="533" y="276.5" width="29.0" height="1.8" rx="0.9" fill="#cfcfcf" opacity="0.7" filter="url(#b1)"/>
<rect x="573" y="276.4" width="33.0" height="2" rx="1.0" fill="#c4c4c4" opacity="0.7" filter="url(#b1)"/>
</g>
<rect x="435" y="253.3" width="187.70000000000005" height="32.099999999999966" fill="none" stroke="#1c1c1c" stroke-width="1.3"/>
</svg>
</body></html>
